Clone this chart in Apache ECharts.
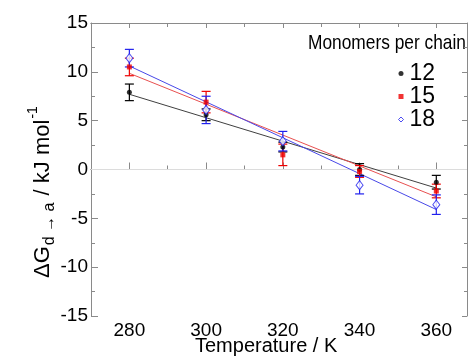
<!DOCTYPE html>
<html><head><meta charset="utf-8">
<script src="https://cdn.jsdelivr.net/npm/echarts@6/dist/echarts.min.js"></script>
<style>html,body{margin:0;padding:0;background:#fff}#c{width:471px;height:358px}</style>
</head><body><div id="c"></div>
<script>
var temps = [280, 300, 320, 340, 360];
var g12 = [7.9, 5.6, 2.3, 0.0, -1.3];
var e12 = [0.85, 0.6, 0.5, 0.6, 0.7];
var g15 = [10.5, 6.9, 1.5, -0.2, -2.2];
var e15 = [0.9, 1.1, 1.1, 0.6, 0.7];
var g18 = [11.4, 6.1, 2.9, -1.6, -3.6];
var e18 = [0.9, 1.4, 1.0, 0.9, 1.0];
var fitT = [280, 360];
var fit12 = [7.7, -1.9];
var fit15 = [9.85, -2.8];
var fit18 = [10.6, -4.1];
var xMajor = [280, 300, 320, 340, 360];
var xMinor = [290, 310, 330, 350];
var names = ['12', '15', '18'];
var colors = ['#000000', '#ee0000', '#2020ee'];
var lineColors = ['#404040', '#e85050', '#4848e8'];

var FONT = 'Liberation Sans, Arial, sans-serif';
var chart = echarts.init(document.getElementById('c'));

function pts(xs, ys) { return xs.map(function (x, i) { return [x, ys[i]]; }); }
function errData(ys, es) { return temps.map(function (t, i) { return [t, ys[i] - es[i], ys[i] + es[i]]; }); }
function errSeries(ys, es, color) {
  return {
    type: 'custom', silent: true, z: 3,
    data: errData(ys, es),
    renderItem: function (params, api) {
      var lo = api.coord([api.value(0), api.value(1)]);
      var hi = api.coord([api.value(0), api.value(2)]);
      var w = 4.5;
      var st = { stroke: color, lineWidth: 1.2 };
      return { type: 'group', children: [
        { type: 'line', shape: { x1: lo[0], y1: lo[1], x2: hi[0], y2: hi[1] }, style: st },
        { type: 'line', shape: { x1: lo[0] - w, y1: lo[1], x2: lo[0] + w, y2: lo[1] }, style: st },
        { type: 'line', shape: { x1: hi[0] - w, y1: hi[1], x2: hi[0] + w, y2: hi[1] }, style: st }
      ]};
    }
  };
}
var axisGray = '#8a8a8a';
function xAx(pos, vals, len) {
  return { type: 'value', min: 270, max: 368, position: pos,
    axisLine: { show: true, lineStyle: { color: axisGray } },
    axisTick: { show: true, inside: true, length: len, customValues: vals, lineStyle: { color: axisGray } },
    axisLabel: { show: false }, splitLine: { show: false } };
}
var xAxes = [
  { type: 'value', min: 270, max: 368, position: 'bottom',
    axisLine: { show: true, lineStyle: { color: axisGray } },
    axisTick: { show: true, inside: true, length: 7, customValues: xMajor, lineStyle: { color: axisGray } },
    axisLabel: { show: true, customValues: xMajor, color: '#000', fontSize: 19, fontFamily: FONT, margin: 5 },
    splitLine: { show: false } },
  xAx('bottom', xMinor, 4),
  xAx('top', xMajor, 5),
  xAx('top', xMinor, 4)
];
var yAxes = [
  { type: 'value', min: -15, max: 15, interval: 5, position: 'left',
    axisLine: { show: true, lineStyle: { color: axisGray } },
    axisTick: { show: true, inside: true, length: 7, lineStyle: { color: axisGray } },
    minorTick: { show: true, splitNumber: 2, length: 4, lineStyle: { color: axisGray } },
    axisLabel: { color: '#000', fontSize: 19, fontFamily: FONT, margin: 3 },
    splitLine: { show: false } },
  { type: 'value', min: -15, max: 15, interval: 5, position: 'right',
    axisLine: { show: true, lineStyle: { color: axisGray } },
    axisTick: { show: true, inside: true, length: 5, lineStyle: { color: axisGray } },
    minorTick: { show: true, splitNumber: 2, length: 3, lineStyle: { color: axisGray } },
    axisLabel: { show: false }, splitLine: { show: false } }
];

var series = [
  { type: 'line', data: [[270, 0], [368, 0]], symbol: 'none', silent: true, z: 1,
    lineStyle: { color: '#dcdcdc', width: 1 } },
  { type: 'line', data: pts(fitT, fit12), symbol: 'none', lineStyle: { color: lineColors[0], width: 1 }, z: 2 },
  { type: 'line', data: pts(fitT, fit15), symbol: 'none', lineStyle: { color: lineColors[1], width: 1 }, z: 2 },
  { type: 'line', data: pts(fitT, fit18), symbol: 'none', lineStyle: { color: lineColors[2], width: 1 }, z: 2 },
  errSeries(g12, e12, colors[0]),
  errSeries(g15, e15, colors[1]),
  errSeries(g18, e18, colors[2]),
  { name: names[0], type: 'scatter', data: pts(temps, g12), symbol: 'circle', symbolSize: 5,
    itemStyle: { color: colors[0] }, z: 4 },
  { name: names[1], type: 'scatter', data: pts(temps, g15), symbol: 'rect', symbolSize: 5,
    itemStyle: { color: colors[1] }, z: 4 },
  { name: names[2], type: 'scatter', data: pts(temps, g18), symbol: 'diamond', symbolSize: [7, 9],
    itemStyle: { color: '#ffffff', borderColor: colors[2], borderWidth: 1 }, z: 5 }
];

chart.setOption({
  animation: false,
  backgroundColor: '#ffffff',
  grid: { left: 91, top: 23, right: 4, bottom: 42, containLabel: false },
  xAxis: xAxes,
  yAxis: yAxes,
  legend: {
    data: [
      { name: '12', icon: 'circle', itemStyle: { color: colors[0] } },
      { name: '15', icon: 'rect', itemStyle: { color: colors[1] } },
      { name: '18', icon: 'diamond', itemStyle: { color: '#fff', borderColor: colors[2], borderWidth: 1 } }
    ],
    orient: 'vertical', left: 393, top: 57, itemWidth: 5, itemHeight: 5, itemGap: 0,
    selectedMode: false,
    textStyle: { color: '#000', fontSize: 23, fontFamily: FONT, lineHeight: 19, padding: [0, 0, 0, 1] }
  },
  graphic: [
    { type: 'text', x: 308, y: 33, scaleX: 0.825, silent: true,
      style: { text: 'Monomers per chain', fill: '#000', font: '21px ' + FONT } },
    { type: 'text', left: 195, top: 336, silent: true,
      style: { text: 'Temperature / K', fill: '#000', font: '20px ' + FONT } },
    { type: 'text', x: 26, y: 278, rotation: Math.PI / 2, silent: true,
      style: {
        text: '{a|ΔG}{s|d → a}{a| / kJ mol}{p|-1}',
        fill: '#000',
        rich: {
          a: { fontSize: 22, fontFamily: FONT, fill: '#000', verticalAlign: 'bottom', lineHeight: 28 },
          s: { fontSize: 16, fontFamily: FONT, fill: '#000', verticalAlign: 'bottom', lineHeight: 28, padding: [0, 1, -4, 1] },
          p: { fontSize: 14, fontFamily: FONT, fill: '#000', verticalAlign: 'top', lineHeight: 28, padding: [0, 0, 0, 1] }
        }
      } }
  ],
  series: series
});
</script></body></html>
